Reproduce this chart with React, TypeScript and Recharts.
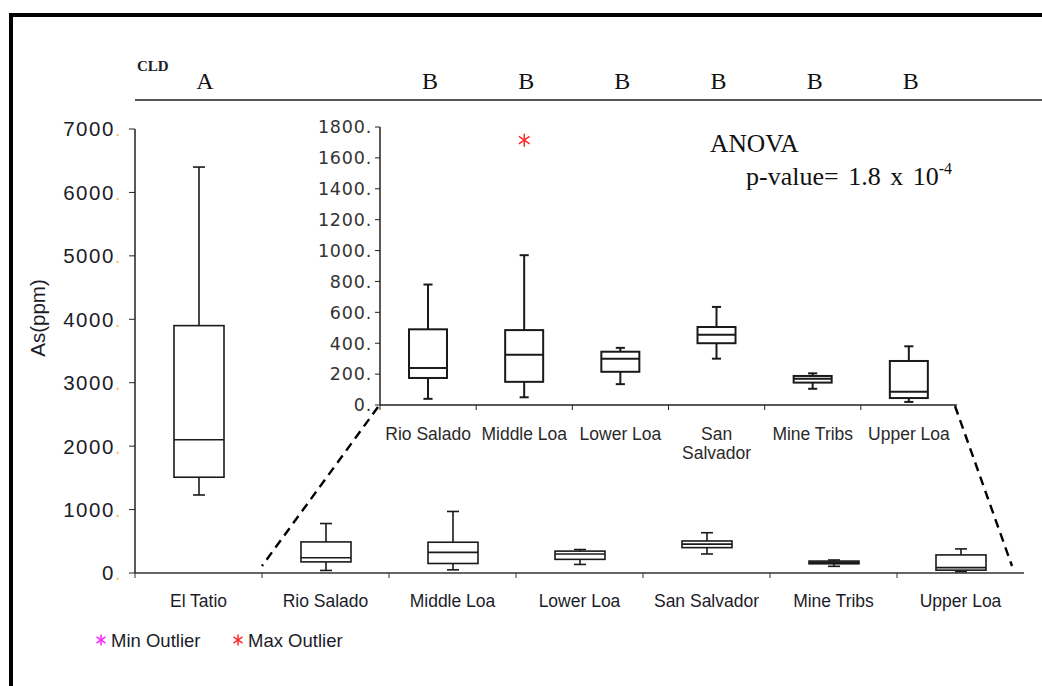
import React from "react";
import { ComposedChart, Bar, Scatter, XAxis, YAxis, LabelList } from "recharts";

// Arsenic (ppm) five-number summaries per site
const sites = ["El Tatio", "Rio Salado", "Middle Loa", "Lower Loa", "San Salvador", "Mine Tribs", "Upper Loa"];
const minVals = [1230, 40, 50, 135, 300, 105, 20];
const q1Vals = [1510, 175, 150, 215, 400, 145, 45];
const medianVals = [2100, 240, 325, 300, 455, 170, 85];
const q3Vals = [3900, 490, 485, 345, 505, 188, 285];
const maxVals = [6400, 780, 970, 370, 635, 205, 380];
const maxOutliers = [null, null, 1715, null, null, null, null];
const cldLetters = ["A", "B", "B", "B", "B", "B", "B"];

const mainTicks = [0, 1000, 2000, 3000, 4000, 5000, 6000, 7000];
const insetTicks = [0, 200, 400, 600, 800, 1000, 1200, 1400, 1600, 1800];
const insetTickLines = [["Rio Salado"], ["Middle Loa"], ["Lower Loa"], ["San", "Salvador"], ["Mine Tribs"], ["Upper Loa"]];

const W = 1042;
const H = 686;
const SANS = "'Liberation Sans', Arial, sans-serif";
const WIDE_SANS = "'DejaVu Sans', Verdana, sans-serif";
const SERIF = "'Liberation Serif', 'Times New Roman', serif";
const INK = "#1c1c28";

const mainData = sites.map((site, i) => ({
  site,
  range: [minVals[i], maxVals[i]],
  min: minVals[i],
  q1: q1Vals[i],
  median: medianVals[i],
  q3: q3Vals[i],
  max: maxVals[i],
  outlier: maxOutliers[i],
  cld: cldLetters[i],
}));
// the zoomed panel repeats every site except El Tatio
const insetData = mainData.slice(1).map((d, i) => ({ ...d, lines: insetTickLines[i] }));

function BoxWhisker(props: any) {
  const { x, y, width, height, payload, strokeWidth } = props;
  const top = Math.min(y, y + height);
  const span = Math.abs(height);
  const { min, q1, median, q3, max } = payload;
  const py = (v: number) => top + ((max - v) / (max - min)) * span;
  const cx = x + width / 2;
  const cap = Math.max(4, width * 0.12);
  return (
    <g stroke="#1a1a1a" strokeWidth={strokeWidth} fill="none">
      <line x1={cx} x2={cx} y1={py(max)} y2={py(q3)} />
      <line x1={cx} x2={cx} y1={py(q1)} y2={py(min)} />
      <line x1={cx - cap} x2={cx + cap} y1={py(max)} y2={py(max)} />
      <line x1={cx - cap} x2={cx + cap} y1={py(min)} y2={py(min)} />
      <rect x={x} y={py(q3)} width={width} height={py(q1) - py(q3)} fill="#fff" />
      <line x1={x} x2={x + width} y1={py(median)} y2={py(median)} />
    </g>
  );
}

function Asterisk({ cx, cy, color, r = 6 }: { cx: number; cy: number; color: string; r?: number }) {
  const arms = [90, 35, 145].map((deg) => {
    const a = (deg * Math.PI) / 180;
    return [Math.cos(a) * r, Math.sin(a) * r];
  });
  return (
    <g stroke={color} strokeWidth={1.5}>
      {arms.map(([dx, dy], i) => (
        <line key={i} x1={cx - dx} y1={cy - dy} x2={cx + dx} y2={cy + dy} />
      ))}
    </g>
  );
}

// category ticks sit on the band edges, labels in the band centre
function MainXTick(props: any) {
  const { x, y, payload } = props;
  const half = payload.offset ?? 0;
  const axisY = y - 17 - 5;
  return (
    <g>
      <line x1={x - half} x2={x - half} y1={axisY} y2={axisY + 5} stroke="#333" />
      <text x={x} y={y} dy="0.71em" textAnchor="middle" fontSize={17.5} fontFamily={SANS} fill={INK}>
        {payload.value}
      </text>
    </g>
  );
}

function InsetXTick(props: any) {
  const { x, y, payload, index } = props;
  const half = payload.offset ?? 0;
  const axisY = y - 18 - 5;
  const lines = insetTickLines[index] ?? [payload.value];
  return (
    <g>
      <line x1={x - half} x2={x - half} y1={axisY} y2={axisY + 5} stroke="#222" />
      <text x={x} y={y} textAnchor="middle" fontSize={17.5} fontFamily={SANS} fill="#2a2a2a">
        {lines.map((ln: string, i: number) => (
          <tspan key={i} x={x} dy={i === 0 ? "0.71em" : "1.05em"}>
            {ln}
          </tspan>
        ))}
      </text>
    </g>
  );
}

function MainYTick(props: any) {
  const { x, y, payload } = props;
  return (
    <text x={x} y={y} dy="0.36em" textAnchor="end" fontSize={20.5} letterSpacing={1.5} fontFamily={SANS} fill={INK}>
      {payload.value}
      <tspan fill="#f2c36b">.</tspan>
    </text>
  );
}

function InsetYTick(props: any) {
  const { x, y, payload } = props;
  return (
    <text x={x} y={y} dy="0.36em" textAnchor="end" fontSize={17.5} letterSpacing={0.8} fontFamily={WIDE_SANS} fill="#333">
      {payload.value}.
    </text>
  );
}

function CldLabel(props: any) {
  const { x, width, value, shift = 0 } = props;
  return (
    <text x={x + width / 2 + shift} y={89} textAnchor="middle" fontSize={24} fontFamily={SERIF} fill="#111">
      {value}
    </text>
  );
}

export default function App() {
  return (
    <div style={{ position: "relative", width: W, height: H, background: "#fff", overflow: "hidden" }}>
      <style>{`body{margin:0}`}</style>
      {/* frame */}
      <div style={{ position: "absolute", left: 9, top: 13, width: W, height: H, borderTop: "4px solid #000", borderLeft: "4px solid #000" }} />

      <div style={{ position: "absolute", left: 0, top: 0 }}>
        <ComposedChart width={W} height={H} data={mainData} margin={{ top: 129, right: 18, bottom: 83, left: 65 }}>
          <XAxis
            dataKey="site"
            interval={0}
            height={30}
            tickSize={5}
            tickMargin={17}
            tickLine={false}
            axisLine={{ stroke: "#333", strokeWidth: 1.5 }}
            tick={<MainXTick />}
          />
          <YAxis
            domain={[0, 7000]}
            ticks={mainTicks}
            width={70}
            tickSize={6}
            tickMargin={7}
            axisLine={{ stroke: "#222", strokeWidth: 1.5 }}
            tickLine={{ stroke: "#222" }}
            tick={<MainYTick />}
            label={(p: any) => {
              const vb = p.viewBox;
              const cx = vb.x + vb.width - 97;
              const cy = vb.y + vb.height / 2 - 33;
              return (
                <text x={cx} y={cy} transform={`rotate(-90 ${cx} ${cy})`} textAnchor="middle" dy="0.35em" fontSize={20.5} fontFamily={SANS} fill={INK}>
                  As(ppm)
                </text>
              );
            }}
          />
          <Bar
            dataKey="range"
            barSize={50}
            isAnimationActive={false}
            shape={(p: any) => <BoxWhisker {...p} strokeWidth={1.6} />}
          >
            <LabelList dataKey="cld" content={(p: any) => (p.index === 0 ? <CldLabel {...p} shift={6} /> : null)} />
          </Bar>
        </ComposedChart>
      </div>

      <div style={{ position: "absolute", left: 0, top: 0 }}>
        <ComposedChart width={W} height={H} data={insetData} margin={{ top: 127, right: 85, bottom: 251, left: 320 }}>
          <XAxis
            dataKey="site"
            interval={0}
            height={30}
            tickSize={5}
            tickMargin={18}
            tickLine={false}
            axisLine={{ stroke: "#222", strokeWidth: 1.5 }}
            tick={<InsetXTick />}
          />
          <YAxis
            domain={[0, 1800]}
            ticks={insetTicks}
            width={60}
            tickSize={5}
            tickMargin={3}
            axisLine={{ stroke: "#222", strokeWidth: 1.5 }}
            tickLine={{ stroke: "#222" }}
            tick={<InsetYTick />}
          />
          <Bar
            dataKey="range"
            barSize={38}
            isAnimationActive={false}
            shape={(p: any) => <BoxWhisker {...p} strokeWidth={2} />}
          >
            <LabelList dataKey="cld" content={(p: any) => <CldLabel {...p} shift={2} />} />
          </Bar>
          <Scatter
            dataKey="outlier"
            isAnimationActive={false}
            shape={(p: any) =>
              p.payload && p.payload.outlier != null ? <Asterisk cx={p.cx} cy={p.cy} color="#ff2a2a" r={6.5} /> : <g />
            }
          />
        </ComposedChart>
      </div>

      <svg width={W} height={H} style={{ position: "absolute", left: 0, top: 0, pointerEvents: "none" }}>
        {/* CLD header */}
        <text x={137} y={71} fontSize={15} fontWeight="bold" fontFamily={SERIF} fill="#222">CLD</text>
        <line x1={135} x2={W} y1={100} y2={100} stroke="#555" strokeWidth={2} />

        {/* zoom connectors */}
        <g stroke="#000" strokeWidth={2.4} strokeDasharray="9 6">
          <line x1={378} y1={407} x2={262} y2={566} />
          <line x1={955} y1={406} x2={1012} y2={566} />
        </g>

        <text x={710} y={152} fontSize={25.5} fontFamily={SERIF} fill="#111">ANOVA</text>
        <text x={746} y={185} fontSize={26} wordSpacing={3} fontFamily={SERIF} fill="#111">
          p-value= 1.8 x 10<tspan dy={-11} fontSize={16}>-4</tspan>
        </text>

        {/* outlier key */}
        <Asterisk cx={101} cy={640} color="#ff22ff" r={5.5} />
        <text x={111} y={640} dy="0.36em" fontSize={18.5} fontFamily={SANS} fill={INK}>Min Outlier</text>
        <Asterisk cx={238} cy={640} color="#ff2a2a" r={5.5} />
        <text x={248} y={640} dy="0.36em" fontSize={18.5} fontFamily={SANS} fill={INK}>Max Outlier</text>
      </svg>
    </div>
  );
}
